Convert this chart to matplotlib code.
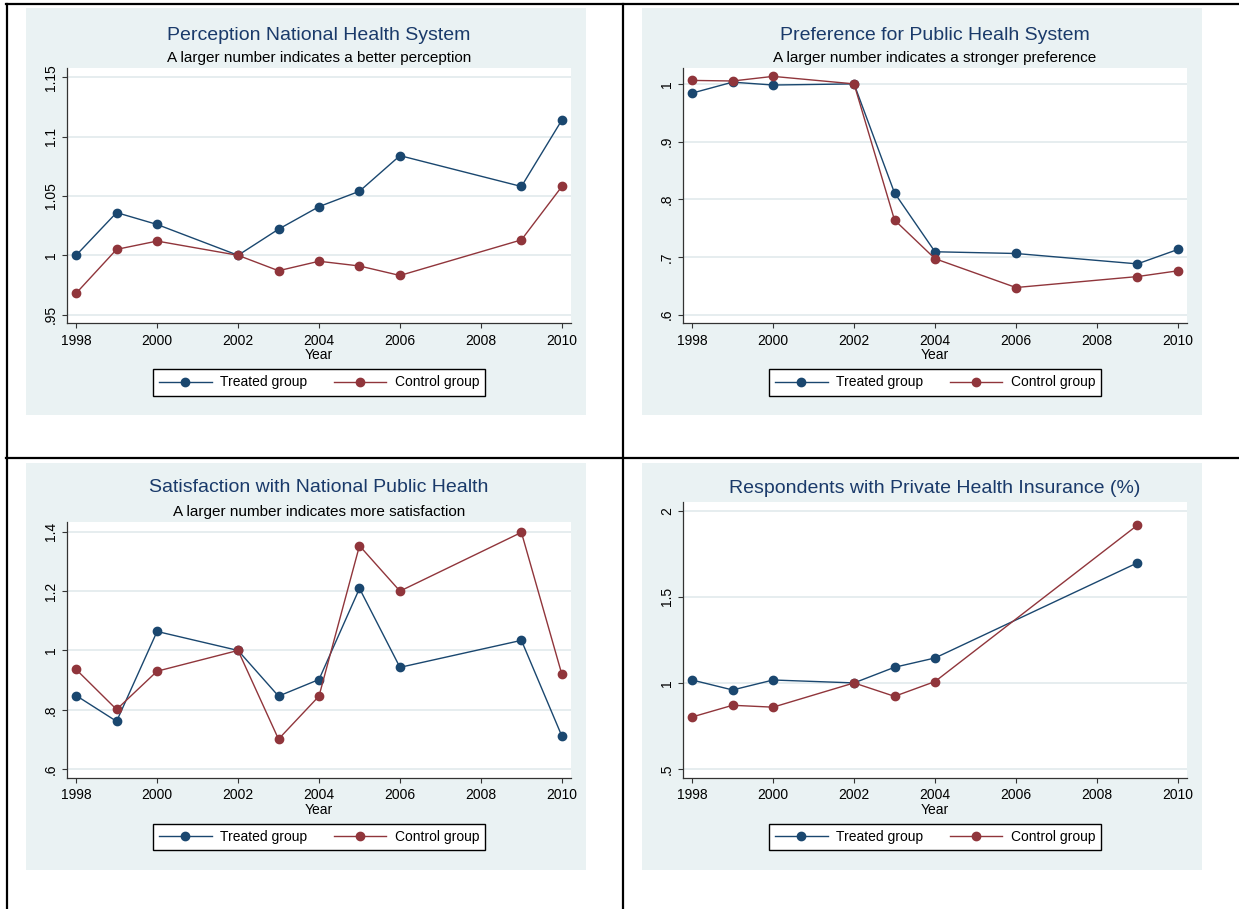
import matplotlib.pyplot as plt
from matplotlib.patches import Rectangle
from matplotlib.lines import Line2D

plt.rcParams['font.family'] = ['Liberation Sans', 'DejaVu Sans']

# Data
perception_years = [1998, 1999, 2000, 2002, 2003, 2004, 2005, 2006, 2009, 2010]
perception_treated = [1.000, 1.036, 1.026, 1.000, 1.022, 1.041, 1.054, 1.084, 1.058, 1.114]
perception_control = [0.968, 1.005, 1.012, 1.000, 0.987, 0.995, 0.991, 0.983, 1.013, 1.058]

preference_years = [1998, 1999, 2000, 2002, 2003, 2004, 2006, 2009, 2010]
preference_treated = [0.984, 1.003, 0.998, 1.000, 0.811, 0.709, 0.706, 0.688, 0.713]
preference_control = [1.006, 1.005, 1.013, 1.000, 0.764, 0.697, 0.647, 0.666, 0.676]

satisfaction_years = [1998, 1999, 2000, 2002, 2003, 2004, 2005, 2006, 2009, 2010]
satisfaction_treated = [0.848, 0.761, 1.064, 1.000, 0.846, 0.902, 1.209, 0.943, 1.034, 0.711]
satisfaction_control = [0.936, 0.801, 0.930, 1.000, 0.701, 0.846, 1.353, 1.200, 1.398, 0.919]

insurance_years = [1998, 1999, 2000, 2002, 2003, 2004, 2009]
insurance_treated = [1.017, 0.959, 1.017, 1.000, 1.091, 1.145, 1.698]
insurance_control = [0.802, 0.870, 0.859, 1.000, 0.922, 1.008, 1.917]

x_ticks = [1998, 2000, 2002, 2004, 2006, 2008, 2010]
series_labels = ['Treated group', 'Control group']

W, H = 1239, 909
BG = '#eaf2f3'
GRID = '#e2eaec'
NAVY = '#1a476f'
MAROON = '#90353b'
TITLE = '#1a3a6a'


def fx(x):
    return x / W


def fy(y):
    return 1 - y / H


fig = plt.figure(figsize=(W / 100, H / 100), dpi=100)


def panel(bg, box, title, subtitle, title_y, sub_y, leg_y,
          years, treated, control, yticks, ylabels, ylim):
    fig.patches.append(Rectangle((fx(bg[0]), fy(bg[3])), (bg[2] - bg[0]) / W,
                                 (bg[3] - bg[1]) / H, transform=fig.transFigure,
                                 facecolor=BG, edgecolor='none', zorder=-5))
    ax = fig.add_axes([fx(box[0]), fy(box[3]), (box[2] - box[0]) / W,
                       (box[3] - box[1]) / H])
    ax.set_facecolor('white')
    ax.plot(years, treated, '-o', color=NAVY, lw=1.0, ms=6, label=series_labels[0])
    ax.plot(years, control, '-o', color=MAROON, lw=1.0, ms=6, label=series_labels[1])

    ax.set_xlim(1997.775, 2010.225)
    ax.set_xticks(x_ticks)
    ax.set_ylim(*ylim)
    ax.set_yticks(yticks)
    ax.set_yticklabels(ylabels, rotation=90, va='center')
    ax.tick_params(direction='out', length=3.6, width=0.8, color='#333333',
                   labelsize=10, pad=3.8)
    ax.tick_params(axis='y', pad=3)
    for s in ['top', 'right']:
        ax.spines[s].set_visible(False)
    for s in ['left', 'bottom']:
        ax.spines[s].set_color('#333333')
        ax.spines[s].set_linewidth(0.9)
    ax.yaxis.grid(True, color=GRID, lw=1.2)
    ax.set_axisbelow(True)
    ax.set_xlabel('Year', fontsize=10, labelpad=0.5)

    cx = (box[0] + box[2]) / 2
    fig.text(fx(cx), fy(title_y), title, ha='center', va='center',
             fontsize=14, color=TITLE)
    if subtitle:
        fig.text(fx(cx), fy(sub_y), subtitle, ha='center', va='center',
                 fontsize=11, color='black')

    leg = ax.legend(loc='center', bbox_to_anchor=(fx(cx), fy(leg_y)),
                    bbox_transform=fig.transFigure, ncol=2, fontsize=10,
                    frameon=True, fancybox=False, edgecolor='black',
                    framealpha=1, handlelength=3.8, handletextpad=0.6,
                    columnspacing=1.9, borderpad=0.45)
    leg.get_frame().set_linewidth(1.0)
    return ax


panel((26, 8, 586, 415), (67, 68.3, 571, 323.3),
      'Perception National Health System',
      'A larger number indicates a better perception', 35, 58, 382.5,
      perception_years, perception_treated, perception_control,
      [0.95, 1.0, 1.05, 1.1, 1.15], ['.95', '1', '1.05', '1.1', '1.15'],
      (0.9427, 1.1576))

panel((642, 8, 1202, 415), (683, 68.3, 1187, 323.3),
      'Preference for Public Healh System',
      'A larger number indicates a stronger preference', 35, 58, 382.5,
      preference_years, preference_treated, preference_control,
      [0.6, 0.7, 0.8, 0.9, 1.0], ['.6', '.7', '.8', '.9', '1'],
      (0.585, 1.027))

panel((26, 463, 586, 870), (67, 522, 571, 777.7),
      'Satisfaction with National Public Health',
      'A larger number indicates more satisfaction', 488, 512, 837,
      satisfaction_years, satisfaction_treated, satisfaction_control,
      [0.6, 0.8, 1.0, 1.2, 1.4], ['.6', '.8', '1', '1.2', '1.4'],
      (0.571, 1.433))

panel((642, 463, 1202, 870), (683, 502.3, 1187, 777.7),
      'Respondents with Private Health Insurance (%)',
      None, 489, None, 837,
      insurance_years, insurance_treated, insurance_control,
      [0.5, 1.0, 1.5, 2.0], ['.5', '1', '1.5', '2'],
      (0.449, 2.05))

# table rules around the panels
for xs, ys in [((6, W), (4, 4)), ((6, W), (457.7, 457.7)),
               ((7, 7), (4, H)), ((622.7, 622.7), (4, H))]:
    fig.add_artist(Line2D([fx(xs[0]), fx(xs[1])], [fy(ys[0]), fy(ys[1])],
                          transform=fig.transFigure, color='black', lw=1.6))

plt.savefig('out.png', dpi=100)
